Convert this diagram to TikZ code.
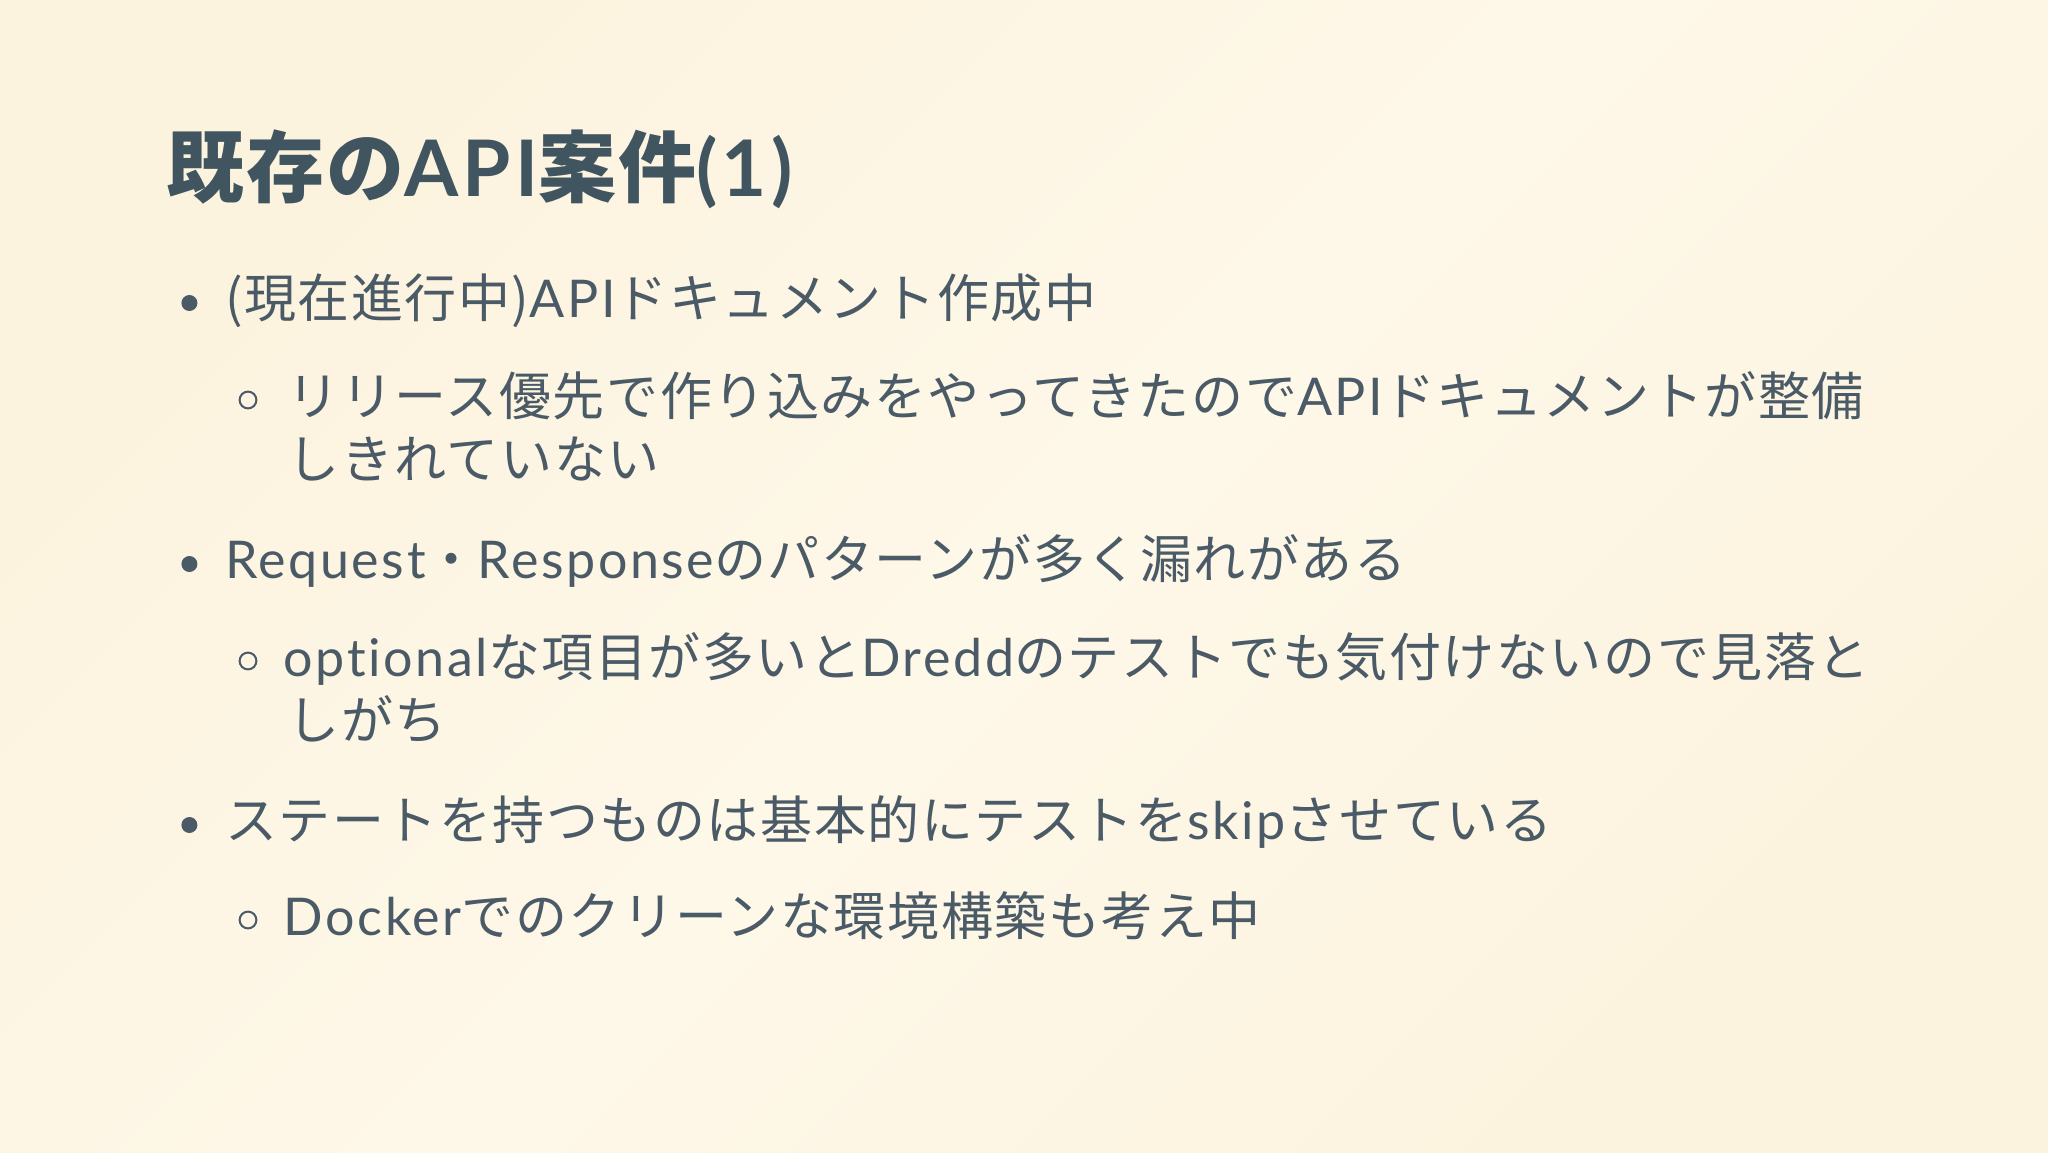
\documentclass[tikz,border=0pt]{standalone}
\usepackage{fontspec}
\setmainfont{Lato}[LetterSpace=5,Ligatures=NoCommon]
\newfontfamily\jp{Noto Sans CJK JP}[LetterSpace=3]
\newcommand{\J}[1]{{\jp #1}}
\definecolor{bgc}{RGB}{252,243,222}
\definecolor{bgl}{RGB}{254,248,233}
\definecolor{txt}{RGB}{74,90,102}
\definecolor{ttl}{RGB}{65,85,97}
\begin{document}
\begin{tikzpicture}[x=1pt,y=1pt,
  body/.style={anchor=base west,inner sep=0pt,text=txt,font=\fontsize{26}{30}\selectfont}]
\shade[left color=bgc,right color=bgc,middle color=bgl,shading angle=45] (0,0) rectangle (1024,-576);
\useasboundingbox (0,0) rectangle (1024,-576);
\node[anchor=base west,inner sep=0pt,text=ttl,font=\fontsize{39}{44}\selectfont\bfseries] (title) at (82.9,-98) {\J{既存の}API\J{案件}(1)};
\coordinate (b1) at (94.7,-151.5);
\node[body] (t1) at (112.3,-158.7) {\J{(現在進行中)}API\J{ドキュメント作成中}};
\coordinate (s1) at (124,-200);
\node[body] (u1) at (143.7,-207.7) {\J{リリース優先で作り込みをやってきたので}API\J{ドキュメントが整備}};
\node[body] (u1b) at (143.7,-239) {\J{しきれていない}};
\coordinate (b2) at (94.7,-282);
\node[body] (t2) at (112.3,-289.3) {Request\J{・}Response\J{のパターンが多く漏れがある}};
\coordinate (s2) at (124,-330.5);
\node[body] (u2) at (141.7,-338.3) {optional\J{な項目が多いと}Dredd\J{のテストでも気付けないので見落と}};
\node[body] (u2b) at (143.7,-369.6) {\J{しがち}};
\coordinate (b3) at (94.7,-412.5);
\node[body] (t3) at (112.3,-419.9) {\J{ステートを持つものは基本的にテストを}skip\J{させている}};
\coordinate (s3) at (124,-460);
\node[body] (u3) at (141.7,-467.6) {Docker\J{でのクリーンな環境構築も考え中}};
\foreach \p in {b1,b2,b3} \fill[txt] (\p) circle (4pt);
\foreach \p in {s1,s2,s3} \draw[txt,line width=1pt] (\p) circle (4.2pt);
\end{tikzpicture}
\end{document}
